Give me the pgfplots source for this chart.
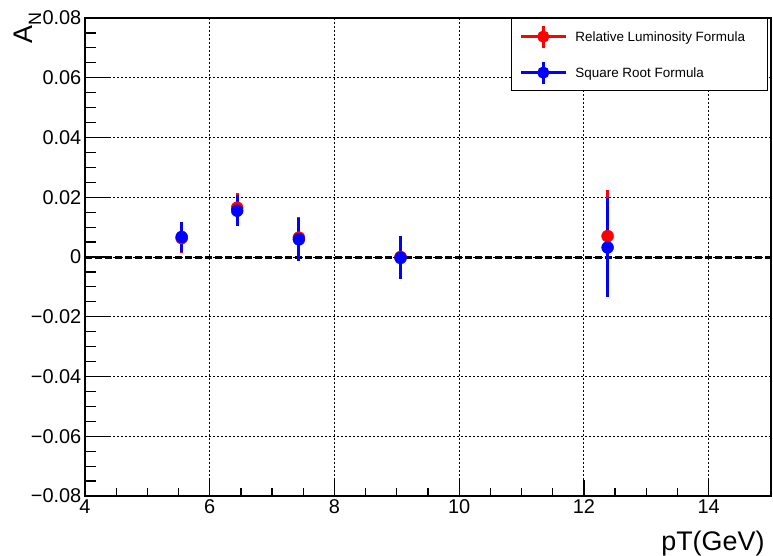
\documentclass[border=0pt]{standalone}
\usepackage{fontspec}
\setmainfont{Liberation Sans}
\usepackage{pgfplots}
\usepackage{pgfplotstable}
\pgfplotsset{compat=1.18}

\pgfplotstableread{
x y ey
5.55 0.0063 0.0050
6.44 0.0165 0.0050
7.43 0.0065 0.0069
9.06 0.0000 0.0070
12.38 0.0070 0.0154
}\redtab

\pgfplotstableread{
x y ey
5.55 0.0067 0.0049
6.44 0.0155 0.0052
7.43 0.0059 0.0072
9.06 -0.0003 0.0072
12.38 0.0032 0.0166
}\bluetab

\pgfplotsset{
  redleg/.style={legend image code/.code={
    \path (-9bp,0bp) (54bp,0bp);
    \draw[red, line width=2.5bp] (0bp,0bp) -- (45bp,0bp);
    \draw[red, line width=2.5bp] (22.5bp,-11bp) -- (22.5bp,11bp);
    \fill[red] (22.5bp,0bp) circle (5.5bp);
  }},
  blueleg/.style={legend image code/.code={
    \path (-9bp,0bp) (54bp,0bp);
    \draw[blue, line width=2.5bp] (0bp,0bp) -- (45bp,0bp);
    \draw[blue, line width=2.5bp] (22.5bp,-11bp) -- (22.5bp,11bp);
    \fill[blue] (22.5bp,0bp) circle (5.5bp);
  }},
}

\begin{document}
\begin{tikzpicture}
\path[use as bounding box] (-85bp,-60bp) rectangle (688bp,496bp);
\begin{axis}[
  at={(0,0)}, anchor=south west,
  scale only axis, width=686bp, height=478bp,
  xmin=4, xmax=15, ymin=-0.08, ymax=0.08,
  xtick={4,6,8,10,12,14},
  ytick={-0.08,-0.06,-0.04,-0.02,0,0.02,0.04,0.06,0.08},
  yticklabels={−0.08,−0.06,−0.04,−0.02,0,0.02,0.04,0.06,0.08},
  scaled y ticks=false, scaled x ticks=false,
  minor x tick num=3, minor y tick num=3,
  tick align=inside, tick pos=left,
  major tick length=24bp, minor tick length=11bp,
  xtick style={/pgfplots/major tick length=16.5bp,/pgfplots/minor tick length=7.7bp},
  every tick/.append style={black, line width=1.2bp},
  grid=major,
  grid style={black, line width=1bp, dash pattern=on 2bp off 2bp},
  axis line style={black, line width=1.5bp},
  tick label style={font=\fontsize{20}{24}\selectfont, inner sep=3.5bp},
  /pgf/number format/assume math mode=true,
  legend style={at={(rel axis cs:1,1)}, anchor=north east, xshift=-3bp,
    draw=black, line width=1.2bp, fill=white, inner sep=0pt, row sep=0pt,
    font=\fontsize{13.5}{16}\selectfont,
    nodes={inner sep=0pt, text height=23bp, text depth=13bp}},
  legend cell align=left,
]
\addplot[black, line width=3bp, dash pattern=on 7bp off 3bp, forget plot] coordinates {(4,0) (15,0)};
\addplot[red, mark=*, mark size=6bp, only marks, forget plot,
  error bars/.cd, y dir=both, y explicit, error mark=none,
  error bar style={line width=3bp, red}]
  table[x=x, y=y, y error=ey] {\redtab};
\addplot[blue, mark=*, mark size=6bp, only marks, forget plot,
  error bars/.cd, y dir=both, y explicit, error mark=none,
  error bar style={line width=3bp, blue}]
  table[x=x, y=y, y error=ey] {\bluetab};
\addlegendimage{redleg}
\addlegendentry{\makebox[192bp][l]{Relative Luminosity Formula}}
\addlegendimage{blueleg}
\addlegendentry{\makebox[192bp][l]{Square Root Formula}}
\end{axis}
\node[rotate=90, anchor=base east, font=\fontsize{27}{30}\selectfont]
  at ([xshift=-52bp,yshift=9bp]current axis.north west)
  {A\raisebox{-0.3em}{\fontsize{18}{20}\selectfont N}};
\node[anchor=base east, font=\fontsize{27}{30}\selectfont]
  at ([xshift=-3bp,yshift=-54bp]current axis.south east) {pT(GeV)};
\end{tikzpicture}
\end{document}
